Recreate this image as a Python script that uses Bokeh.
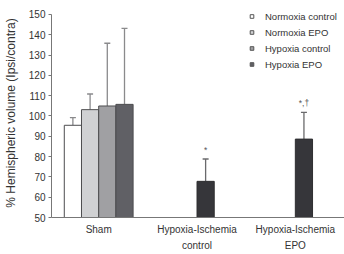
from bokeh.plotting import figure
from bokeh.models import Range1d, FixedTicker, ColumnDataSource, Whisker, TeeHead, Legend, LegendItem
from bokeh.core.properties import value
from bokeh.embed import file_html
from bokeh.resources import INLINE

# ---- data ----
groups = ["Sham", "Hypoxia-Ischemia\ncontrol", "Hypoxia-Ischemia\nEPO"]
series = ["Normoxia control", "Normoxia EPO", "Hypoxia control", "Hypoxia EPO"]
series_colors = ["#ffffff", "#d0d1d3", "#a0a0a3", "#606065"]
# sham bars (one per series)
sham_values = [95.4, 103.1, 104.9, 105.7]
sham_err = [3.8, 7.7, 30.9, 37.4]
# hypoxia-ischemia bars
hi_values = [67.8, 88.6]
hi_err = [11.0, 13.2]
hi_marks = ["*", "*,\u2020"]
hi_color = "#36363a"

FONT = "Liberation Sans"
bar_w = 0.175

p = figure(width=344, height=254, output_backend="svg", toolbar_location=None,
           x_range=Range1d(-0.48, 2.5), y_range=Range1d(50, 152.9),
           min_border_left=46, min_border_right=0, min_border_top=8, min_border_bottom=36)
p.grid.visible = False
p.outline_line_color = None

# sham bars
sham_x = [0 + (i - 1.5) * bar_w for i in range(len(series))]
sham_src = ColumnDataSource(dict(x=sham_x, top=sham_values, color=series_colors,
                                 up=[v + e for v, e in zip(sham_values, sham_err)],
                                 label=series))
p.vbar(x="x", top="top", bottom=50, width=bar_w, fill_color="color",
       line_color="#4d4d4f", line_width=1, source=sham_src)
p.add_layout(Whisker(base="x", lower="top", upper="up", source=sham_src,
                     line_color="#8a8a8c", line_width=1.3,
                     upper_head=TeeHead(size=6, line_color="#8a8a8c", line_width=1.3),
                     lower_head=None))

# HI bars (in the "Hypoxia control" slot of each group)
hi_x = [g + 0.5 * bar_w for g in (1, 2)]
hi_src = ColumnDataSource(dict(x=hi_x, top=hi_values,
                               up=[v + e for v, e in zip(hi_values, hi_err)],
                               mark=hi_marks))
p.vbar(x="x", top="top", bottom=50, width=bar_w, fill_color=hi_color,
       line_color="#2e2e30", line_width=1, source=hi_src)
p.add_layout(Whisker(base="x", lower="top", upper="up", source=hi_src,
                     line_color="#6a6a6c", line_width=1.3,
                     upper_head=TeeHead(size=6, line_color="#6a6a6c", line_width=1.3),
                     lower_head=None))
p.text(x="x", y="up", text="mark", source=hi_src, text_align="center",
       text_baseline="bottom", y_offset=-4, text_font=value(FONT),
       text_font_size="8.5px", text_color="#555555")

# legend swatches
legend_items = []
for i, (name, col) in enumerate(zip(series, series_colors)):
    r = p.scatter([0], [40], marker="square", size=7, fill_color=col,
                  line_color="#555555", line_width=1)
    legend_items.append(LegendItem(label=name, renderers=[r]))
leg = Legend(items=legend_items, location=(196, 147), background_fill_alpha=0,
             border_line_color=None, label_text_font=FONT, label_text_font_size="9.5px",
             label_text_color="#333333", glyph_width=9, glyph_height=12,
             label_standoff=9, spacing=4, padding=0, margin=0, label_height=12)
p.add_layout(leg)

# axes
p.yaxis.ticker = FixedTicker(ticks=list(range(50, 151, 10)))
p.yaxis.bounds = (50, 150)
p.yaxis.axis_label = "% Hemispheric volume (Ipsi/contra)"
p.yaxis.axis_label_text_font = FONT
p.yaxis.axis_label_text_font_style = "normal"
p.yaxis.axis_label_text_font_size = "12px"
p.yaxis.axis_label_text_color = "#333333"
p.yaxis.axis_label_standoff = 8
p.yaxis.major_label_text_font = FONT
p.yaxis.major_label_text_font_size = "10px"
p.yaxis.major_label_text_color = "#333333"
p.yaxis.major_tick_out = 3
p.yaxis.major_tick_in = 0
p.yaxis.minor_tick_out = 0
p.yaxis.minor_tick_in = 0
p.yaxis.axis_line_color = "#777777"
p.yaxis.major_tick_line_color = "#777777"
p.yaxis.major_label_standoff = 3

p.xaxis.ticker = FixedTicker(ticks=[0, 1, 2])
p.xaxis.major_label_overrides = {i: g for i, g in enumerate(groups)}
p.xaxis.major_label_text_font = FONT
p.xaxis.major_label_text_font_size = "10px"
p.xaxis.major_label_text_color = "#333333"
p.xaxis.major_label_text_line_height = 1.5
p.xaxis.major_tick_out = 0
p.xaxis.major_tick_in = 0
p.xaxis.minor_tick_out = 0
p.xaxis.minor_tick_in = 0
p.xaxis.axis_line_color = "#777777"
p.xaxis.major_label_standoff = 6

open("out.html", "w").write(file_html(p, INLINE))
